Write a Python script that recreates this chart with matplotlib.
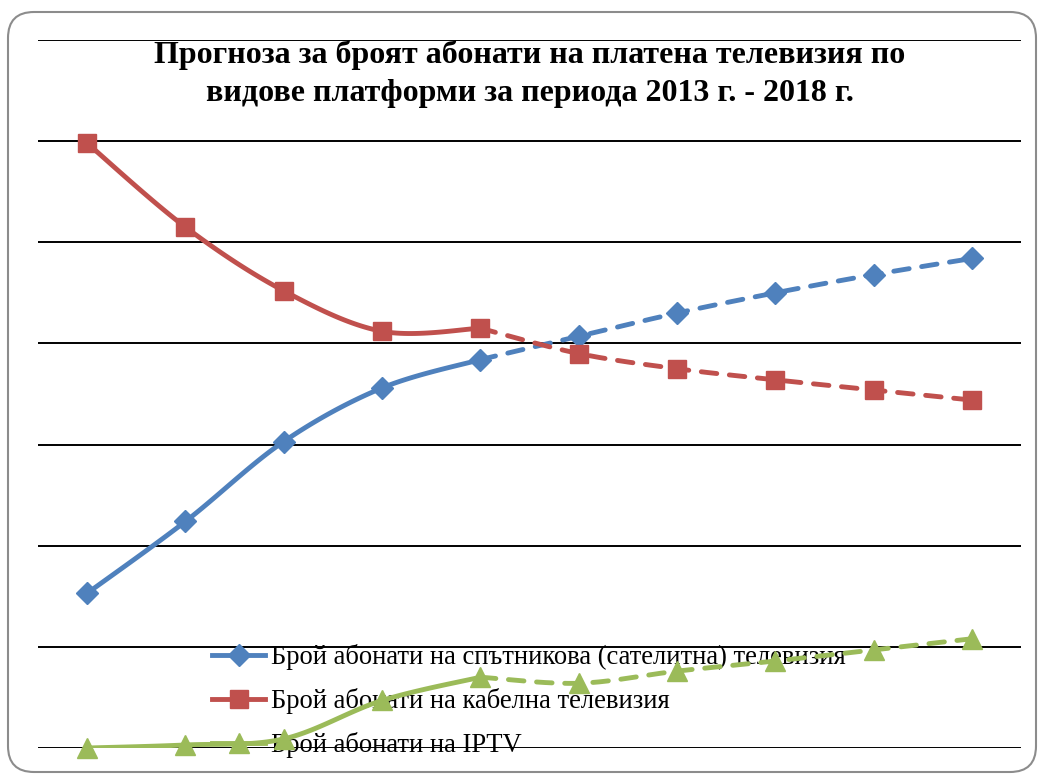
import numpy as np
import matplotlib.pyplot as plt
from matplotlib.patches import FancyBboxPatch
from matplotlib.transforms import IdentityTransform

# values in thousands of subscribers, 2013 .. 2018 (half-year steps)
periods = list(range(10))
satellite = [153, 224, 303, 356, 384, 407, 430, 450, 468, 484]
cable = [598, 515, 452, 412, 415, 390, 375, 364, 354, 344]
iptv = [0, 3, 9, 47, 70, 64, 76, 86, 97, 108]
n_actual = 5  # first 5 points solid, rest dashed forecast

labels = ['Брой абонати на спътникова (сателитна) телевизия',
          'Брой абонати на кабелна телевизия',
          'Брой абонати на IPTV']
colors = ['#4F81BD', '#C0504D', '#9BBB59']
markers = ['D', 's', '^']
msizes = [11, 13, 15]

title = 'Прогноза за броят абонати на платена телевизия по\nвидове платформи за периода 2013 г. - 2018 г.'


def smooth(x, y, steps=30):
    """Excel-like smoothed line: cubic bezier through the points."""
    x = np.asarray(x, float)
    y = np.asarray(y, float)
    p = np.column_stack([x, y])
    out = [p[0]]
    t = np.linspace(0, 1, steps)[1:, None]
    for i in range(len(p) - 1):
        p0 = p[i - 1] if i > 0 else p[i]
        p1 = p[i]
        p2 = p[i + 1]
        p3 = p[i + 2] if i + 2 < len(p) else p[i + 1]
        c1 = p1 + (p2 - p0) / 6
        c2 = p2 - (p3 - p1) / 6
        seg = ((1 - t) ** 3) * p1 + 3 * ((1 - t) ** 2) * t * c1 + 3 * (1 - t) * t ** 2 * c2 + t ** 3 * p2
        out.extend(seg)
    out = np.array(out)
    return out[:, 0], out[:, 1]


W, H = 1038, 774
fig = plt.figure(figsize=(W / 100, H / 100), dpi=100)
ax = fig.add_axes([38 / W, 26 / H, (1021 - 38) / W, (748 - 40) / H])

frame = FancyBboxPatch((8, 2), 1028, 760, boxstyle='round,pad=0,rounding_size=26',
                       transform=IdentityTransform(), facecolor='none',
                       edgecolor='#8c8c8c', linewidth=1.5, zorder=0)
fig.patches.append(frame)

series = [satellite, cable, iptv]
handles = []
for vals, col, mk, ms, lab in zip(series, colors, markers, msizes, labels):
    xs, ys = smooth(periods[:n_actual], vals[:n_actual])
    ax.plot(xs, ys, color=col, lw=3.5, solid_capstyle='round', zorder=3)
    xs, ys = smooth(periods[n_actual - 1:], vals[n_actual - 1:])
    ax.plot(xs, ys, color=col, lw=3.5, linestyle=(0, (3.2, 2.6)),
            dash_capstyle='round', zorder=3)
    ax.plot(periods, vals, linestyle='none', marker=mk, ms=ms, color=col,
            zorder=4, clip_on=False)
    h, = ax.plot([], [], color=col, lw=3.5, marker=mk, ms=ms, label=lab)
    handles.append(h)

ax.set_xlim(-0.5, 9.5)
ax.set_ylim(0, 700)
ax.set_yticks(np.arange(0, 701, 100))
ax.grid(axis='y', color='black', lw=1.4, zorder=1)
ax.set_axisbelow(True)
ax.tick_params(left=False, bottom=False, labelleft=False, labelbottom=False)
for s in ax.spines.values():
    s.set_visible(False)

leg = ax.legend(handles=handles, loc='upper left',
                bbox_to_anchor=(212 / W, 1 - 644 / H), bbox_transform=fig.transFigure,
                frameon=False, borderpad=0, borderaxespad=0, handlelength=2.0,
                handletextpad=0.2, labelspacing=0.68,
                prop={'family': 'Liberation Serif', 'size': 19.2})
leg.set_zorder(2)

fig.text(530 / W, 1 - 74 / H, title, ha='center', va='center',
         family='Liberation Serif', weight='bold', fontsize=23, linespacing=1.38)

fig.savefig('out.png', dpi=100)
